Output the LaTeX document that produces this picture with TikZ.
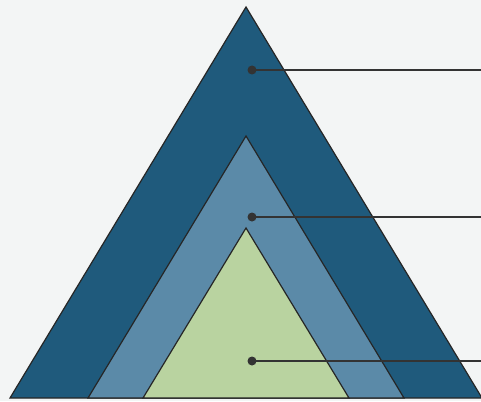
\documentclass[tikz,border=0pt]{standalone}
\begin{document}
\begin{tikzpicture}[x=1pt,y=-1pt,
  tri/.style={draw=black!85, line width=1.2pt, line join=miter},
  lead/.style={draw=black!80, line width=1.3pt},
  dotmark/.style={circle, fill=black!80, inner sep=0pt, minimum size=9pt}]
\definecolor{bg}{HTML}{F3F5F5}
\definecolor{outerc}{HTML}{1F5A7C}
\definecolor{midc}{HTML}{5B8AA8}
\definecolor{innerc}{HTML}{B9D3A0}
\fill[bg] (0,0) rectangle (481,401);
\useasboundingbox (0,0) rectangle (481,401);
\fill[outerc, tri] (246,7) -- (10,398) -- (482,398) -- cycle;
\fill[midc, tri] (246,136) -- (88,398) -- (404,398) -- cycle;
\fill[innerc, tri] (246,228) -- (143,398) -- (349,398) -- cycle;
\node[dotmark] (d1) at (252,70) {};
\node[dotmark] (d2) at (252,217) {};
\node[dotmark] (d3) at (252,361) {};
\coordinate (e1) at (481,70);
\coordinate (e2) at (481,217);
\coordinate (e3) at (481,361);
\draw[lead] (d1.center) -- (e1);
\draw[lead] (d2.center) -- (e2);
\draw[lead] (d3.center) -- (e3);
\end{tikzpicture}
\end{document}
